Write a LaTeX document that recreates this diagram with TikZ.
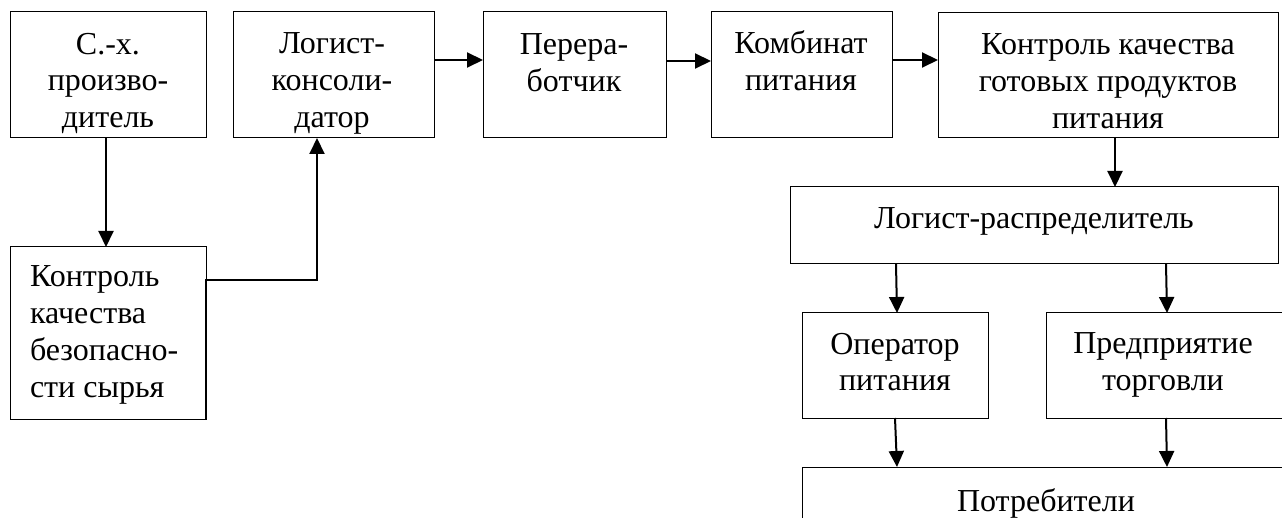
\documentclass[tikz,border=0pt]{standalone}
\usepackage{fontspec}
\setmainfont{Liberation Serif}
\usetikzlibrary{arrows.meta}
\tikzset{
  box/.style={draw, line width=1pt, rectangle, inner sep=0pt, outer sep=0pt, anchor=north west},
  txt/.style={inner sep=0pt, outer sep=0pt, anchor=north, align=center, font=\fontsize{32}{36.8}\selectfont},
  ltxt/.style={inner sep=0pt, outer sep=0pt, anchor=north west, align=left, font=\fontsize{32}{36.8}\selectfont},
  arr/.style={line width=2pt, -{Triangle[length=16pt, width=15pt]}}
}
\begin{document}
\begin{tikzpicture}[x=1pt, y=-1pt]
\useasboundingbox (0,0) rectangle (1282,518);
\clip (0,0) rectangle (1282,518);
% boxes
\node[box, minimum width=196pt, minimum height=126pt] (b1) at (10,12) {};
\node[box, minimum width=201pt, minimum height=126pt] (b2) at (233,12) {};
\node[box, minimum width=183pt, minimum height=126pt] (b3) at (483,12) {};
\node[box, minimum width=181pt, minimum height=126pt] (b4) at (711,12) {};
\node[box, minimum width=340pt, minimum height=125pt] (b5) at (938,13) {};
\node[box, minimum width=196pt, minimum height=172pt] (b6) at (10,247) {};
\node[box, minimum width=488pt, minimum height=77pt] (d) at (790,187) {};
\node[box, minimum width=186pt, minimum height=105pt] (op) at (802,313) {};
\node[box, minimum width=250pt, minimum height=105pt] (tr) at (1046,313) {};
\node[box, minimum width=500pt, minimum height=120pt] (pt) at (802,467) {};
% texts
\node[txt] (t1) at (108,33) {С.-х.\\произво-\\дитель};
\node[txt] (t2) at (332,33) {Логист-\\консоли-\\датор};
\node[txt] (t3) at (574,34) {Перера-\\ботчик};
\node[txt] (t4) at (801,31) {Комбинат\\питания};
\node[txt] (t5) at (1108,34) {Контроль качества\\готовых продуктов\\питания};
\node[ltxt] (t6) at (30,266) {Контроль\\качества\\безопасно-\\сти сырья};
\node[txt] (td) at (1034,208) {Логист-распределитель};
\node[txt] (top) at (895,333) {Оператор\\питания};
\node[txt] (ttr) at (1163,333) {Предприятие\\торговли};
\node[txt] (tpt) at (1046,489) {Потребители};
% connectors
\coordinate (c1) at (106,0);
\draw[arr] (b1.south -| c1) -- (b6.north -| c1);
\coordinate (turn) at (317,280);
\draw[arr] (b6.south east) -- (b6.east |- turn) -- (turn) -- (b2.south -| turn);
\draw[arr] (b2.east |- 0,60) -- (b3.west |- 0,60);
\draw[arr] (b3.east |- 0,61) -- (b4.west |- 0,61);
\draw[arr] (b4.east |- 0,60) -- (b5.west |- 0,60);
\draw[arr] (b5.south -| 1115,0) -- (d.north -| 1115,0);
\draw[arr] (d.south -| 896,0) -- (op.north -| 897,0);
\draw[arr] (d.south -| 1166,0) -- (tr.north -| 1167,0);
\draw[arr] (op.south -| 895,0) -- (pt.north -| 897,0);
\draw[arr] (tr.south -| 1166,0) -- (pt.north -| 1167,0);
\end{tikzpicture}
\end{document}
